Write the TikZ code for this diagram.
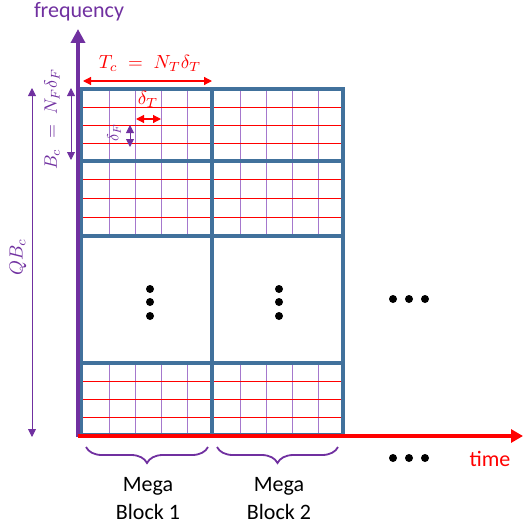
\documentclass[tikz,border=0pt]{standalone}
\usepackage{fontspec}
\setsansfont{Carlito}
\usetikzlibrary{arrows.meta,decorations.pathreplacing}
\definecolor{gridblue}{RGB}{65,113,156}
\definecolor{purp}{RGB}{112,48,160}
\definecolor{lpurp}{RGB}{165,120,205}
\newcommand{\scmath}[2]{\scalebox{#1}{$#2$}}
\tikzset{
  axisf/.style={purp, line width=4pt, -{Triangle[length=14pt,width=14pt]}},
  axist/.style={red, line width=4pt, -{Triangle[length=12pt,width=13pt]}},
  redarr/.style={red, line width=1.2pt, {Triangle[length=8pt,width=8pt]}-{Triangle[length=8pt,width=8pt]}},
  purarr/.style={purp, line width=0.9pt, {Triangle[length=8pt,width=8pt]}-{Triangle[length=8pt,width=8pt]}},
  frame/.style={gridblue, line width=3.5pt},
  vline/.style={lpurp, line width=1pt},
  hline/.style={red, line width=0.9pt},
  bracest/.style={purp, line width=1.8pt, decorate, decoration={brace, mirror, amplitude=16pt}},
  lbl/.style={font=\sffamily\fontsize{22}{28}\selectfont, align=center},
  dot/.style={circle, fill=black, inner sep=0pt, minimum size=8pt}
}
\begin{document}
\begin{tikzpicture}[x=1pt,y=-1pt]
\useasboundingbox (0,0) rectangle (523,527);
% grid blocks
\foreach \xa/\xb in {81/212,212/343}{
  \foreach \ya/\yb in {89/161,161/236,363/435}{
    \foreach \i in {1,...,4}{
      \draw[vline] ({\xa+\i*(\xb-\xa)/5+2},\ya) -- ({\xa+\i*(\xb-\xa)/5+2},\yb);
    }
    \foreach \j in {1,2,3}{
      \draw[hline] (\xa,{\ya+\j*(\yb-\ya)/4}) -- (\xb,{\ya+\j*(\yb-\ya)/4});
    }
  }
}
% frame
\draw[frame] (81,89) rectangle (343,435);
\draw[frame] (81,161) -- (343,161);
\draw[frame] (81,236) -- (343,236);
\draw[frame] (81,363) -- (343,363);
\draw[frame] (212,89) -- (212,435);
% axes
\coordinate (fb) at (78,437);
\coordinate (ft) at (78,29);
\coordinate (tl) at (78,436);
\coordinate (tr) at (523,436);
\draw[axisf] (fb) -- (ft);
\draw[axist] (tl) -- (tr);
\node[lbl, purp] (freq) at (79,12) {frequency};
\node[lbl, red] (time) at (490,459) {time};
% Tc
\coordinate (tca) at (83,81);
\coordinate (tcb) at (212,81);
\draw[redarr] (tca) -- (tcb);
\node[red] (tc) at (150,63) {\scmath{1.9}{T_c \;=\; N_T\delta_T}};
% delta T
\coordinate (dta) at (136,119);
\coordinate (dtb) at (161,119);
\draw[redarr] (dta) -- (dtb);
\node[red] (dt) at (148,99) {\scmath{1.9}{\delta_T}};
% delta F
\coordinate (dfa) at (130,125);
\coordinate (dfb) at (130,147);
\draw[purarr] (dfa) -- (dfb);
\node[purp, rotate=90] (df) at (114,133) {\scmath{1.6}{\delta_F}};
% Bc
\coordinate (bca) at (71,88);
\coordinate (bcb) at (71,160);
\draw[purarr] (bca) -- (bcb);
\node[purp, rotate=90] (bc) at (52,119) {\scmath{1.8}{B_c \;=\; N_F\delta_F}};
% QBc
\coordinate (qa) at (32,88);
\coordinate (qb) at (32,437);
\draw[purarr] (qa) -- (qb);
\node[purp, rotate=90] (qbc) at (18,257) {\scmath{1.9}{QB_c}};
% dots
\foreach \x in {150,279}{
  \foreach \y in {289,302,316}{
    \node[dot] at (\x,\y) {};
  }
}
\foreach \x in {393,409,425}{
  \node[dot] at (\x,299) {};
  \node[dot] at (\x,458) {};
}
% braces
\coordinate (b1a) at (86,447);
\coordinate (b1b) at (208,447);
\coordinate (b2a) at (217,447);
\coordinate (b2b) at (338,447);
\draw[bracest] (b1a) -- (b1b);
\draw[bracest] (b2a) -- (b2b);
\node[lbl] (mb1) at (148,499) {Mega\\Block 1};
\node[lbl] (mb2) at (279,499) {Mega\\Block 2};
\end{tikzpicture}
\end{document}
